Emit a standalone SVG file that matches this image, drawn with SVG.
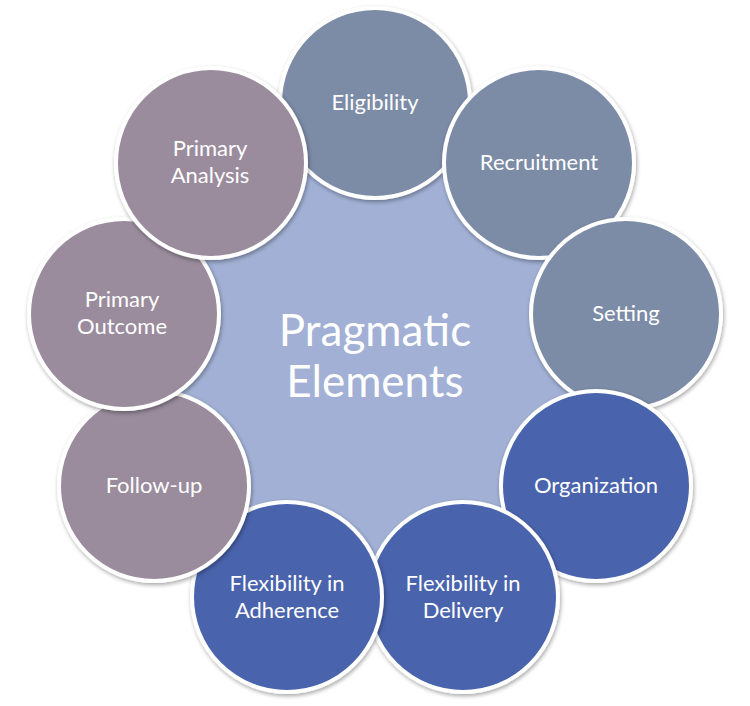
<svg xmlns="http://www.w3.org/2000/svg" width="750" height="706" viewBox="0 0 750 706">
<defs>
<filter id="sh" x="-20%" y="-20%" width="140%" height="140%">
<feGaussianBlur in="SourceAlpha" stdDeviation="2"/>
<feOffset dx="1" dy="2" result="b"/>
<feComponentTransfer><feFuncA type="linear" slope="0.35"/></feComponentTransfer>
<feMerge><feMergeNode/><feMergeNode in="SourceGraphic"/></feMerge>
</filter>
</defs>
<style>
.c{stroke:#fff;stroke-width:4;filter:url(#sh)}
.g{fill:#7B8BA6}
.b{fill:#4863AC}
.m{fill:#9A8C9D}
.t{font-family:Lato,"Open Sans","Liberation Sans",sans-serif;font-size:22px;fill:#fff;text-anchor:middle}
.ct{font-family:Lato,"Open Sans","Liberation Sans",sans-serif;font-size:44px;fill:#fff;text-anchor:middle}
</style>
<rect width="750" height="706" fill="#fff"/>
<g id="center">
<circle cx="375" cy="358" r="200" fill="#A1B0D4"/>
<text class="ct" x="375" y="346">Pragmatic</text>
<text class="ct" x="375" y="397">Elements</text>
</g>
<g id="eligibility"><circle class="c g" cx="375" cy="103" r="95"/><text class="t" x="375" y="110">Eligibility</text></g>
<g id="recruitment"><circle class="c g" cx="539" cy="163" r="95"/><text class="t" x="539" y="170">Recruitment</text></g>
<g id="setting"><circle class="c g" cx="626" cy="314" r="95"/><text class="t" x="626" y="321">Setting</text></g>
<g id="organization"><circle class="c b" cx="596" cy="486" r="95"/><text class="t" x="596" y="493">Organization</text></g>
<g id="delivery"><circle class="c b" cx="463" cy="597" r="95"/><text class="t" x="463" y="591">Flexibility in</text><text class="t" x="463" y="618">Delivery</text></g>
<g id="adherence"><circle class="c b" cx="287" cy="597" r="95"/><text class="t" x="287" y="591">Flexibility in</text><text class="t" x="287" y="618">Adherence</text></g>
<g id="follow-up"><circle class="c m" cx="154" cy="486" r="95"/><text class="t" x="154" y="493">Follow-up</text></g>
<g id="primary-outcome"><circle class="c m" cx="124" cy="314" r="95"/><text class="t" x="122" y="307">Primary</text><text class="t" x="122" y="334">Outcome</text></g>
<g id="primary-analysis"><circle class="c m" cx="211" cy="163" r="95"/><text class="t" x="210" y="156">Primary</text><text class="t" x="210" y="183">Analysis</text></g>
<g id="connectors"/>
</svg>
